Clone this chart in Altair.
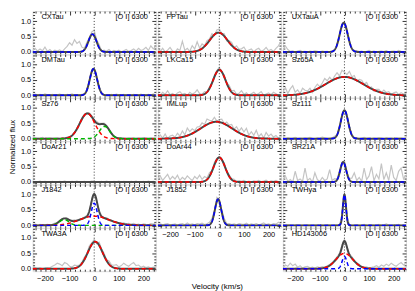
import altair as alt
import numpy as np
import pandas as pd

LINE_LABEL = "[O I] 6300"
X_TITLE = "Velocity (km/s)"
Y_TITLE = "Normalized flux"
VEL_OBS = list(range(-250, 251, 10))          # velocity grid of the observed spectra (km/s)
X_LABELS = [-200, -100, 0, 100, 200]
Y_LABELS = [0.0, 0.5, 1.0]

COL_LEFT = ["CXTau", "DMTau", "Sz76", "DoAr21", "J1842", "TWA3A"]
COL_MID = ["FPTau", "LKCa15", "IMLup", "DoAr44", "J1852"]
COL_RIGHT = ["UXTauA", "Sz65A", "Sz111", "SR21A", "TWHya", "HD143006"]

# Gaussian fit components: (colour, amplitude, centre km/s, FWHM km/s)
CXTAU_COMP = [("blue", 0.58, -7, 38)]
DMTAU_COMP = [("blue", 0.86, -3, 35)]
SZ76_COMP = [("red", 0.82, -28, 72), ("green", 0.40, 42, 50)]
DOAR21_COMP = []
J1842_COMP = [("green", 0.19, -122, 45), ("red", 0.30, 0, 140), ("blue", 0.72, 0, 28)]
TWA3A_COMP = [("red", 0.88, 4, 70)]
FPTAU_COMP = [("red", 0.63, -3, 85)]
LKCA15_COMP = [("red", 0.83, 0, 58)]
IMLUP_COMP = [("red", 0.55, -12, 150)]
DOAR44_COMP = [("red", 0.80, 0, 55)]
J1852_COMP = [("blue", 0.85, -5, 30)]
UXTAUA_COMP = [("blue", 0.95, -3, 38)]
SZ65A_COMP = [("red", 0.60, 0, 180)]
SZ111_COMP = [("blue", 0.92, 0, 35)]
SR21A_COMP = [("blue", 0.65, -5, 28)]
TWHYA_COMP = [("blue", 1.00, 0, 15)]
HD143006_COMP = [("red", 0.50, 0, 80), ("blue", 0.40, 0, 22)]

CXTAU_NOISE = [0.05, 0.12, 0.03, 0.10, 0.04, 0.16, 0.02, 0.08, 0.00, 0.06,
               0.03, 0.07, 0.01, 0.10, 0.18, 0.30, 0.22, 0.40, 0.28, 0.34,
               0.14, 0.05, 0.10, 0.04, 0.08, 0.18, 0.06, 0.10, -0.02, 0.05,
               0.02, 0.08, 0.00, 0.05, 0.02, 0.06, 0.00, 0.04, 0.08, 0.02,
               0.05, 0.10, 0.03, 0.12, 0.05, 0.08, 0.15, 0.05, 0.20, 0.10, 0.18]
DMTAU_NOISE = [0.02, 0.04, 0.01, 0.03, 0.00, 0.05, 0.02, 0.01, 0.03, 0.00,
               0.02, 0.04, 0.01, 0.00, 0.03, 0.02, 0.05, 0.01, 0.02, 0.00,
               0.03, 0.01, 0.02, 0.04, 0.03, 0.05, -0.02, 0.02, 0.03, 0.01,
               0.02, 0.00, 0.03, 0.01, 0.04, 0.02, 0.00, 0.03, 0.01, 0.02,
               0.00, 0.03, 0.02, 0.01, 0.04, 0.00, 0.02, 0.03, 0.01, 0.05, 0.02]
SZ76_NOISE = [0.02, 0.03, 0.01, 0.02, 0.04, 0.00, 0.02, 0.03, 0.01, 0.02,
              0.03, 0.00, 0.02, 0.01, 0.03, 0.02, 0.00, 0.01, 0.02, 0.04,
              0.05, 0.03, 0.02, 0.04, 0.03, 0.02, 0.05, 0.03, 0.02, 0.04,
              0.02, 0.03, 0.01, 0.02, 0.00, 0.01, 0.03, 0.02, 0.00, 0.02,
              0.01, 0.03, 0.00, 0.02, 0.01, 0.03, 0.02, 0.00, 0.02, 0.01, 0.03]
DOAR21_NOISE = [0.02, 0.00, 0.01, 0.03, 0.00, 0.02, 0.01, 0.00, 0.02, 0.01,
                0.00, 0.02, 0.01, 0.03, 0.01, 0.00, 0.02, 0.01, 0.03, 0.00,
                0.01, 0.02, 0.00, 0.01, 0.03, 0.02, 0.00, 0.01, 0.02, 0.00,
                0.03, 0.01, 0.00, 0.02, 0.01, 0.03, 0.00, 0.02, 0.01, 0.00,
                0.02, 0.01, 0.03, 0.00, 0.01, 0.02, 0.00, 0.03, 0.01, 0.02, 0.00]
J1842_NOISE = [0.02, 0.04, 0.01, 0.03, 0.00, 0.02, 0.03, 0.01, 0.02, 0.04,
               0.01, 0.03, 0.02, 0.00, 0.03, 0.01, 0.02, 0.04, 0.01, 0.02,
               0.00, 0.03, 0.02, 0.01, 0.03, 0.02, 0.00, 0.03, 0.01, 0.02,
               0.04, 0.01, 0.02, 0.00, 0.03, 0.01, 0.02, 0.04, 0.02, 0.05,
               0.03, 0.06, 0.02, 0.04, 0.01, 0.05, 0.03, 0.02, 0.06, 0.04, 0.08]
TWA3A_NOISE = [0.02, 0.04, 0.01, 0.03, 0.00, 0.02, 0.04, 0.03, 0.08, 0.12,
               0.18, 0.15, 0.10, 0.20, 0.16, 0.08, 0.05, 0.10, 0.06, 0.03,
               0.05, 0.08, 0.03, 0.10, 0.05, 0.08, -0.05, 0.10, 0.05, 0.08,
               0.03, 0.10, 0.05, 0.08, 0.12, 0.05, 0.10, 0.18, 0.12, 0.08,
               0.15, 0.20, 0.10, 0.12, 0.05, 0.08, 0.04, 0.06, 0.02, 0.05, 0.03]
FPTAU_NOISE = [0.08, 0.02, 0.12, 0.00, 0.06, 0.15, 0.03, -0.02, 0.10, 0.05,
               0.35, 0.05, 0.12, 0.02, 0.20, 0.08, 0.30, 0.06, 0.15, 0.02,
               0.10, 0.05, 0.12, -0.03, 0.10, 0.12, 0.02, 0.08, -0.05, 0.06,
               0.10, 0.00, 0.12, 0.04, 0.08, 0.15, 0.02, 0.06, 0.10, 0.00,
               0.08, 0.12, 0.02, 0.06, 0.15, 0.04, 0.08, 0.02, 0.12, 0.20, 0.35]
LKCA15_NOISE = [0.05, 0.00, 0.10, 0.03, 0.15, 0.02, 0.06, 0.00, 0.08, 0.12,
                0.03, 0.06, 0.00, 0.10, 0.04, 0.08, 0.18, 0.05, 0.02, 0.08,
                0.00, 0.05, 0.03, 0.06, 0.04, 0.08, 0.00, 0.06, 0.02, 0.10,
                0.04, 0.12, 0.02, 0.06, 0.15, 0.03, 0.08, 0.00, 0.05, 0.10,
                0.02, 0.06, 0.12, 0.00, 0.04, 0.08, 0.02, 0.10, 0.05, 0.00, 0.06]
IMLUP_NOISE = [0.05, 0.12, 0.02, 0.15, 0.00, 0.08, 0.10, 0.03, 0.15, 0.05,
               0.20, 0.05, 0.25, 0.10, 0.15, 0.05, 0.12, 0.08, 0.15, 0.05,
               0.18, 0.10, 0.05, 0.15, 0.02, 0.08, 0.12, 0.00, 0.10, 0.05,
               0.12, 0.02, 0.15, 0.05, 0.20, 0.10, 0.25, 0.05, 0.18, 0.08,
               0.25, 0.05, 0.15, 0.02, 0.20, 0.08, 0.15, 0.05, 0.10, 0.02, 0.08]
DOAR44_NOISE = [0.10, 0.20, 0.05, 0.15, 0.25, 0.08, 0.18, 0.10, 0.22, 0.05,
                0.15, 0.08, 0.20, 0.12, 0.05, 0.18, 0.10, 0.22, 0.08, 0.15,
                0.05, 0.12, 0.02, 0.08, 0.05, 0.03, 0.00, 0.06, 0.02, 0.05,
                0.03, 0.06, 0.00, 0.04, 0.02, 0.05, 0.01, 0.03, 0.00, 0.04,
                0.02, 0.05, 0.01, 0.03, 0.06, 0.00, 0.04, 0.02, 0.05, 0.01, 0.03]
J1852_NOISE = [0.03, 0.05, 0.02, 0.04, 0.06, 0.02, 0.03, 0.05, 0.01, 0.04,
               0.06, 0.02, 0.08, 0.03, 0.05, 0.02, 0.06, 0.04, 0.07, 0.03,
               0.05, 0.08, 0.10, 0.05, 0.12, 0.05, 0.08, 0.10, 0.04, 0.06,
               0.03, 0.05, 0.02, 0.06, 0.04, 0.03, 0.07, 0.02, 0.05, 0.03,
               0.06, 0.02, 0.04, 0.08, 0.03, 0.05, 0.02, 0.06, 0.04, 0.10, 0.05]
UXTAUA_NOISE = [0.05, 0.20, 0.08, 0.02, 0.04, 0.00, 0.03, 0.05, 0.01, 0.02,
                0.00, 0.03, 0.01, 0.04, 0.02, 0.00, 0.03, 0.01, 0.02, 0.00,
                0.02, 0.00, 0.03, 0.02, -0.02, 0.04, 0.02, 0.03, 0.00, 0.02,
                0.04, 0.01, 0.03, 0.00, 0.02, 0.05, 0.01, 0.03, 0.00, 0.02,
                0.03, 0.01, 0.04, 0.00, 0.02, 0.03, 0.01, 0.05, 0.02, 0.00, 0.03]
SZ65A_NOISE = [0.10, 0.25, 0.05, 0.20, 0.30, 0.08, 0.15, 0.02, 0.18, 0.10,
               0.05, 0.12, -0.05, 0.08, 0.15, 0.02, 0.10, 0.20, 0.08, 0.15,
               0.00, 0.10, 0.18, 0.05, 0.22, 0.15, 0.08, 0.20, 0.05, 0.12,
               -0.03, 0.08, 0.10, 0.02, 0.12, 0.00, 0.06, -0.04, 0.05, 0.08,
               0.00, 0.10, 0.04, 0.08, 0.00, 0.06, 0.10, 0.02, 0.08, 0.04, 0.06]
SZ111_NOISE = [0.02, 0.00, 0.03, 0.01, 0.02, 0.04, 0.00, 0.02, 0.01, 0.03,
               0.02, 0.04, 0.01, 0.00, 0.03, 0.02, 0.05, 0.03, 0.01, 0.02,
               0.03, 0.05, 0.02, 0.04, 0.03, 0.02, 0.04, 0.03, 0.02, 0.01,
               0.03, 0.00, 0.02, 0.04, 0.01, 0.03, 0.00, 0.02, 0.01, 0.03,
               0.02, 0.00, 0.03, 0.01, 0.02, 0.00, 0.03, 0.01, 0.02, 0.00, 0.02]
SR21A_NOISE = [0.05, 0.20, 0.02, 0.08, 0.00, 0.35, 0.05, 0.10, 0.02, 0.45,
               0.05, 0.12, 0.00, 0.30, 0.08, 0.02, 0.15, 0.05, 0.10, 0.40,
               0.05, 0.10, 0.02, 0.08, 0.05, 0.10, 0.02, 0.05, 0.12, 0.30,
               0.05, 0.15, 0.02, 0.45, 0.08, 0.20, 0.50, 0.05, 0.25, 0.10,
               0.60, 0.08, 0.30, 0.05, 0.55, 0.15, 0.05, 0.35, 0.45, 0.10, 0.20]
TWHYA_NOISE = [0.01, 0.00, 0.02, 0.01, 0.00, 0.01, 0.02, 0.00, 0.01, 0.00,
               0.02, 0.01, 0.00, 0.01, 0.02, 0.00, 0.01, 0.00, 0.02, 0.01,
               0.00, 0.01, 0.02, 0.01, 0.03, 0.02, 0.01, 0.02, 0.00, 0.01,
               0.02, 0.00, 0.01, 0.03, 0.01, 0.00, 0.02, 0.01, 0.00, 0.03,
               0.01, 0.02, 0.05, 0.01, 0.00, 0.02, 0.01, 0.03, 0.00, 0.02, 0.01]
HD143006_NOISE = [0.05, 0.12, 0.08, 0.18, 0.10, 0.15, 0.05, 0.10, 0.02, 0.06,
                  0.08, 0.03, 0.05, 0.02, 0.06, 0.03, 0.05, 0.02, 0.04, 0.03,
                  0.02, 0.04, 0.05, 0.03, 0.06, 0.05, 0.04, 0.02, 0.05, 0.03,
                  0.02, 0.04, 0.01, 0.03, 0.05, 0.02, 0.04, 0.06, 0.10, 0.05,
                  0.12, 0.08, 0.15, 0.10, 0.18, 0.12, 0.08, 0.15, 0.20, 0.12, 0.18]

COMPS = {"CXTau": CXTAU_COMP, "DMTau": DMTAU_COMP, "Sz76": SZ76_COMP, "DoAr21": DOAR21_COMP,
         "J1842": J1842_COMP, "TWA3A": TWA3A_COMP, "FPTau": FPTAU_COMP, "LKCa15": LKCA15_COMP,
         "IMLup": IMLUP_COMP, "DoAr44": DOAR44_COMP, "J1852": J1852_COMP, "UXTauA": UXTAUA_COMP,
         "Sz65A": SZ65A_COMP, "Sz111": SZ111_COMP, "SR21A": SR21A_COMP, "TWHya": TWHYA_COMP,
         "HD143006": HD143006_COMP}
NOISE = {"CXTau": CXTAU_NOISE, "DMTau": DMTAU_NOISE, "Sz76": SZ76_NOISE, "DoAr21": DOAR21_NOISE,
         "J1842": J1842_NOISE, "TWA3A": TWA3A_NOISE, "FPTau": FPTAU_NOISE, "LKCa15": LKCA15_NOISE,
         "IMLup": IMLUP_NOISE, "DoAr44": DOAR44_NOISE, "J1852": J1852_NOISE, "UXTauA": UXTAUA_NOISE,
         "Sz65A": SZ65A_NOISE, "Sz111": SZ111_NOISE, "SR21A": SR21A_NOISE, "TWHya": TWHYA_NOISE,
         "HD143006": HD143006_NOISE}

W, H = 125, 44
Y_DOM = [-0.08, 1.33]
XS = alt.Scale(domain=[-250, 250], nice=False, zero=False)
YS = alt.Scale(domain=Y_DOM, nice=False, zero=False)
X_TICKS = list(range(-240, 241, 20))
Y_TICKS = [round(0.1 * i, 1) for i in range(0, 14)]
FONT = "Liberation Sans"
COLORS = {"blue": "#0000ff", "red": "#ff0000", "green": "#00b400"}
X_MAJOR = "datum.value % 100 === 0"
Y_MAJOR = "abs(datum.value * 2 - round(datum.value * 2)) < 0.001"


def gauss(v, amp, cen, fwhm):
    return amp * np.exp(-4.0 * np.log(2.0) * ((v - cen) / fwhm) ** 2)


def tick_axis(orient, values, test):
    off = -H if orient in ("top", "bottom") else -W
    return alt.Axis(orient=orient, offset=off, values=values,
                    tickSize={"condition": {"test": test, "value": 4}, "value": 2},
                    tickColor="black", tickWidth=0.8, labels=False, domain=False,
                    grid=False, title=None)


def text_layer(txt, x, y, align="left", size=7.5, angle=0):
    return alt.Chart(pd.DataFrame({"t": [txt]})).mark_text(
        align=align, baseline="middle", font=FONT, fontSize=size, color="black", angle=angle
    ).encode(x=alt.value(x), y=alt.value(y), text="t:N")


def panel(name, show_y=False, show_x=False, y_title=False):
    comps = COMPS[name]
    vf = np.arange(-250, 250.5, 1.0)
    vo = np.array(VEL_OBS, dtype=float)
    tot_f = np.zeros_like(vf)
    tot_o = np.zeros_like(vo)
    frames = []
    for i, (col, a, c, w) in enumerate(comps):
        tot_f = tot_f + gauss(vf, a, c, w)
        tot_o = tot_o + gauss(vo, a, c, w)
        frames.append(pd.DataFrame({"v": vf, "f": gauss(vf, a, c, w), "k": f"{col}{i}", "c": col}))
    obs = pd.DataFrame({"v": vo, "f": tot_o + np.array(NOISE[name])})
    model = pd.DataFrame({"v": vf, "f": tot_f})
    rule = pd.DataFrame({"v": [0.0], "y0": [Y_DOM[0]], "y1": [Y_DOM[1]]})

    obs_layer = alt.Chart(obs).mark_line(color="#c4c4c4", strokeWidth=1.2, clip=True).encode(
        x=alt.X("v:Q", scale=XS, axis=tick_axis("top", X_TICKS, X_MAJOR)),
        y=alt.Y("f:Q", scale=YS, axis=tick_axis("right", Y_TICKS, Y_MAJOR)))

    x_lab = None
    if show_x:
        x_lab = alt.Axis(orient="bottom", values=X_LABELS, ticks=False, tickSize=0, domain=False,
                         grid=False, labelPadding=3, labelFontSize=7.5, labelFont=FONT,
                         labelColor="black", title=None)
    y_lab = None
    if show_y:
        y_lab = alt.Axis(orient="left", values=Y_LABELS, format=".1f", ticks=False, tickSize=0,
                         domain=False, grid=False, labelPadding=2, labelFontSize=7.5,
                         labelFont=FONT, labelColor="black", title=None)

    rule_layer = alt.Chart(rule).mark_rule(color="black", strokeDash=[1, 2], strokeWidth=0.8).encode(
        x=alt.X("v:Q", scale=XS, axis=x_lab),
        y=alt.Y("y0:Q", scale=YS, axis=y_lab),
        y2="y1:Q")

    model_layer = alt.Chart(model).mark_line(color="#474747", strokeWidth=2, clip=True).encode(
        x=alt.X("v:Q", scale=XS, axis=tick_axis("bottom", X_TICKS, X_MAJOR)),
        y=alt.Y("f:Q", scale=YS, axis=tick_axis("left", Y_TICKS, Y_MAJOR)))

    layers = [obs_layer, rule_layer, model_layer]
    if frames:
        cdf = pd.concat(frames, ignore_index=True)
        layers.append(alt.Chart(cdf).mark_line(strokeDash=[4, 3], strokeWidth=1.5, clip=True).encode(
            x=alt.X("v:Q", scale=XS, axis=None),
            y=alt.Y("f:Q", scale=YS, axis=None),
            color=alt.Color("c:N", scale=alt.Scale(domain=list(COLORS), range=list(COLORS.values())),
                            legend=None),
            detail="k:N"))

    layers.append(text_layer(name, 9, 6))
    layers.append(text_layer(LINE_LABEL, W - 8, 6, align="right"))
    if y_title:
        layers.append(text_layer(Y_TITLE, -20, 6, align="center", size=8, angle=270))

    return alt.layer(*layers).resolve_axis(x="independent", y="independent").properties(width=W, height=H)


left = [panel(n, show_y=True, show_x=(n == "TWA3A"), y_title=(n == "DoAr21")) for n in COL_LEFT]
mid = [panel(n, show_x=(n == "J1852")) for n in COL_MID]
right = [panel(n, show_x=(n == "HD143006")) for n in COL_RIGHT]

columns = [alt.vconcat(*c, spacing=0, bounds="flush") for c in (left, mid, right)]
chart = alt.hconcat(*columns, spacing=0).properties(
    padding={"left": 0, "top": 0, "right": 0, "bottom": 0},
    title=alt.TitleParams(text=X_TITLE, orient="bottom", anchor="middle", frame="group",
                          font=FONT, fontSize=8, fontWeight="normal", offset=1,
                          dx=1.5 * W),
).configure_view(stroke="black", strokeWidth=1).configure(background="white")

chart.save("out.html", embed_options={"renderer": "svg", "actions": False})
